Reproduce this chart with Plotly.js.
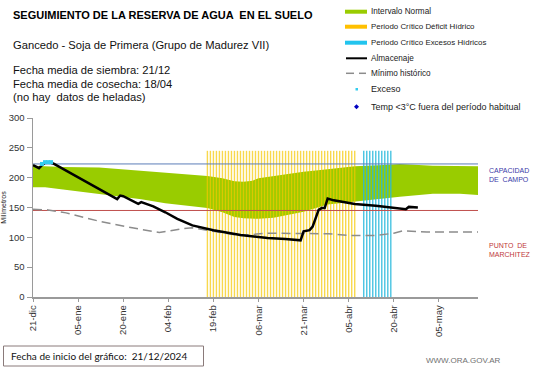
<!DOCTYPE html>
<html>
<head>
<meta charset="utf-8">
<script src="https://cdn.plot.ly/plotly-3.0.1.min.js"></script>
<style>
html,body{margin:0;padding:0;background:#fff;}
#chart{width:541px;height:368px;}
</style>
</head>
<body>
<div id="chart"></div>
<script>
// ---- data (x = days since 21/12/2024) ----
var tickDays = [0, 15, 30, 45, 60, 75, 90, 105, 120, 135];
var tickLabels = ["21-dic", "05-ene", "20-ene", "04-feb", "19-feb", "06-mar", "21-mar", "05-abr", "20-abr", "05-may"];

var bandDays  = [0, 4, 10, 22, 30, 36, 44, 58, 63, 67, 70, 73, 75, 80, 90, 98, 107, 115, 122, 133, 142, 148];
var bandUpper = [220, 219, 218, 217, 214, 212, 209, 203, 199, 194, 193, 195, 199, 203, 210, 214, 219, 221, 223, 220, 219, 219];
var bandLower = [184, 184, 180, 173, 168, 164, 157, 149, 142, 134, 132, 131, 131, 133, 143, 155, 160, 164, 168, 173, 173, 171];

var almDays = [0, 1, 2, 3, 4, 6, 7, 28, 29, 30, 35, 36, 40, 44, 48, 53, 60, 69, 78, 84, 89, 90, 92, 93, 95, 96, 97, 98, 100, 107, 114, 124, 125, 128];
var almVals = [221, 218, 216, 221, 225, 225, 223, 164, 170, 169, 156, 159, 152, 142, 131, 120, 112, 104, 99, 97, 95, 110, 112, 118, 146, 149, 149, 165, 162, 156, 153, 147, 151, 150];

var minDays = [0, 5, 11, 22, 33, 42, 49, 53, 60, 69, 78, 87, 98, 106, 114, 120, 123, 131, 148];
var minVals = [147, 146, 141, 127, 116, 108, 114, 116, 110, 103, 107, 107, 106, 103, 103, 107, 111, 109, 109];

var excesoDays = [3, 4, 5, 6];
var excesoVals = [223, 226, 226, 226];

var deficitDays = [58, 59, 60, 61, 62, 63, 64, 65, 66, 67, 68, 69, 70, 71, 72, 73, 74, 75, 76, 77, 78, 79, 80, 81, 82, 83, 84, 85, 86, 87, 88, 89, 90, 91, 92, 93, 94, 95, 96, 97, 98, 99, 100, 101, 102, 103, 104, 105, 106, 107];
var excesoPerDays = [110, 111, 112, 113, 114, 115, 116, 117, 118, 119];
var periodHeight = 245;

var capacidadCampo = 223;
var puntoMarchitez = 145;

// ---- helpers ----
function stems(days, h) {
  var x = [], y = [];
  days.forEach(function (d) { x.push(d, d, null); y.push(0, h, null); });
  return {x: x, y: y};
}
var L = 33, T = 118, W = 445, H = 179;
function px(v) { return (v - L) / W; }
function py(v) { return (T + H - v) / H; }

var defS = stems(deficitDays, periodHeight);
var excS = stems(excesoPerDays, periodHeight);

var traces = [
  {x: bandDays, y: bandLower, mode: 'lines', line: {width: 0, color: 'rgba(0,0,0,0)'}, hoverinfo: 'skip', showlegend: false},
  {x: bandDays, y: bandUpper, mode: 'lines', fill: 'tonexty', fillcolor: '#99CC00', line: {width: 0, color: '#99CC00'}, name: 'Intervalo Normal', showlegend: false},
  {x: defS.x, y: defS.y, mode: 'lines', line: {width: 1.4, color: 'rgba(245,200,0,0.7)'}, name: 'Periodo Crítico Déficit Hídrico', showlegend: false},
  {x: excS.x, y: excS.y, mode: 'lines', line: {width: 1.4, color: 'rgba(40,185,220,0.85)'}, name: 'Periodo Crítico Excesos Hídricos', showlegend: false},
  {x: [0, 148], y: [capacidadCampo, capacidadCampo], mode: 'lines', line: {width: 1, color: '#5B7DB8'}, showlegend: false},
  {x: [0, 148], y: [puntoMarchitez, puntoMarchitez], mode: 'lines', line: {width: 1, color: '#C0504D'}, showlegend: false},
  {x: minDays, y: minVals, mode: 'lines', line: {width: 1.5, color: '#8C8C8C', dash: '9px,5px'}, name: 'Mínimo histórico', showlegend: false},
  {x: almDays, y: almVals, mode: 'lines', line: {width: 2.5, color: '#000000'}, name: 'Almacenaje', showlegend: false},
  {x: excesoDays, y: excesoVals, mode: 'markers', marker: {size: 4, color: '#33CCEE', symbol: 'square'}, name: 'Exceso', showlegend: false}
];

var F = 'Liberation Sans, Arial, sans-serif';
var ann = [];
function txt(x, y, t, size, color, bold, family) {
  ann.push({xref: 'paper', yref: 'paper', x: px(x), y: py(y), xanchor: 'left', yanchor: 'middle',
    text: bold ? '<b>' + t + '</b>' : t, showarrow: false, font: {family: family || F, size: size, color: color || '#000'}});
}
txt(11, 15, 'SEGUIMIENTO DE LA RESERVA DE AGUA  EN EL SUELO', 11, '#000', true);
txt(11, 45, 'Gancedo - Soja de Primera (Grupo de Madurez VII)', 11.2, '#111');
txt(11, 70, 'Fecha media de siembra: 21/12', 11.2, '#111');
txt(11, 83.5, 'Fecha media de cosecha: 18/04', 11.2, '#111');
txt(11, 97, '(no hay  datos de heladas)', 11.2, '#111');

var legItems = [
  ['Intervalo Normal', 11.7, 8.2],
  ['Periodo Crítico Déficit Hídrico', 26.7, 7.9],
  ['Periodo Crítico Excesos Hídricos', 42.7, 7.9],
  ['Almacenaje', 58.3, 8.2],
  ['Mínimo histórico', 73.3, 8.2],
  ['Exceso', 89.3, 9],
  ['Temp &lt;3°C fuera del período habitual', 106.7, 9]
];
legItems.forEach(function (it) { txt(369, it[1], it[0], it[2], '#222'); });

txt(487, 170, 'CAPACIDAD', 7, '#3A3AA8');
txt(487, 179.5, 'DE  CAMPO', 7, '#3A3AA8');
txt(487, 245, 'PUNTO  DE', 7, '#C0393B');
txt(487, 254.5, 'MARCHITEZ', 7, '#C0393B');

txt(9, 356, 'Fecha de inicio del gráfico:  21/12/2024', 10, '#111', false, 'Lato, Carlito, sans-serif');
txt(424, 360, 'WWW.ORA.GOV.AR', 8, '#707070');

var shapes = [
  {type: 'rect', xref: 'paper', yref: 'paper', x0: px(345), x1: px(367), y0: py(13.7), y1: py(9.7), fillcolor: '#99CC00', line: {width: 0}},
  {type: 'rect', xref: 'paper', yref: 'paper', x0: px(345), x1: px(367), y0: py(28.7), y1: py(24.7), fillcolor: '#FFC000', line: {width: 0}},
  {type: 'rect', xref: 'paper', yref: 'paper', x0: px(345), x1: px(367), y0: py(44.7), y1: py(40.7), fillcolor: '#22C4EE', line: {width: 0}},
  {type: 'line', xref: 'paper', yref: 'paper', x0: px(346), x1: px(367), y0: py(58.3), y1: py(58.3), line: {width: 2, color: '#000'}},
  {type: 'line', xref: 'paper', yref: 'paper', x0: px(346), x1: px(354), y0: py(73.3), y1: py(73.3), line: {width: 1.5, color: '#8C8C8C'}},
  {type: 'line', xref: 'paper', yref: 'paper', x0: px(359), x1: px(366), y0: py(73.3), y1: py(73.3), line: {width: 1.5, color: '#8C8C8C'}},
  {type: 'rect', xref: 'paper', yref: 'paper', x0: px(355.5), x1: px(358), y0: py(90.5), y1: py(88), fillcolor: '#33CCEE', line: {width: 0}},
  {type: 'path', xref: 'paper', yref: 'paper',
    path: 'M ' + px(356.5) + ' ' + py(104.3) + ' L ' + px(359) + ' ' + py(106.8) + ' L ' + px(356.5) + ' ' + py(109.3) + ' L ' + px(354) + ' ' + py(106.8) + ' Z',
    fillcolor: '#0000C0', line: {width: 0}},
  {type: 'rect', xref: 'paper', yref: 'paper', x0: px(3.5), x1: px(203.5), y0: py(346), y1: py(366), line: {width: 1, color: '#8A7A7A'}}
];

var layout = {
  width: 541, height: 368,
  margin: {l: L, r: 541 - L - W, t: T, b: 368 - T - H, pad: 0},
  paper_bgcolor: '#fff', plot_bgcolor: '#fff',
  showlegend: false,
  xaxis: {range: [0, 148], tickmode: 'array', tickvals: tickDays, ticktext: tickLabels, tickangle: -90,
    showgrid: false, zeroline: false, showline: true, linecolor: '#9A9A9A', linewidth: 1.5,
    ticks: 'outside', ticklen: 3, tickcolor: '#9A9A9A', tickfont: {family: F, size: 9.5, color: '#333'}},
  yaxis: {range: [0, 300], tickvals: [0, 50, 100, 150, 200, 250, 300], showgrid: false, zeroline: false,
    showline: true, linecolor: '#9A9A9A', linewidth: 1.5, ticks: 'outside', ticklen: 5, tickcolor: '#9A9A9A',
    tickfont: {family: F, size: 9.5, color: '#333'},
    title: {text: 'Milímetros', font: {family: F, size: 7, color: '#222'}, standoff: 6}},
  annotations: ann,
  shapes: shapes
};

Plotly.newPlot('chart', traces, layout, {staticPlot: true, displayModeBar: false});
</script>
</body>
</html>
